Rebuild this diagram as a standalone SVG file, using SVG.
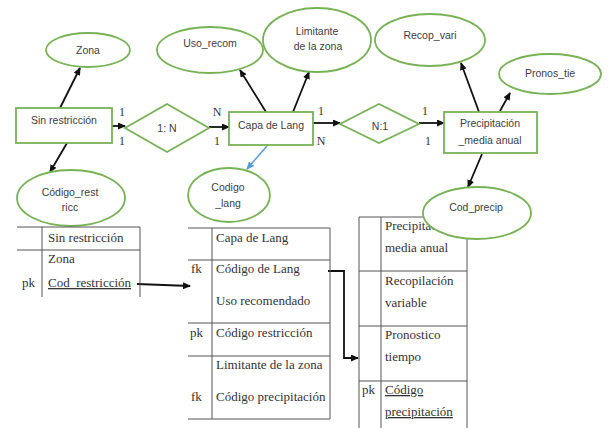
<svg xmlns="http://www.w3.org/2000/svg" width="608" height="428" viewBox="0 0 608 428">
<style>
.sh{fill:#fff;stroke:#77b255;stroke-width:1.8}
.er{font-family:"Liberation Sans",Arial,sans-serif;font-size:10.5px;fill:#404040;text-anchor:middle}
.card{font-family:"Liberation Serif","Times New Roman",serif;font-size:12px;fill:#333;text-anchor:middle}
.tb{font-family:"Liberation Serif","Times New Roman",serif;font-size:13px;fill:#333}
.tl{stroke:#555;stroke-width:1;fill:none}
.c{stroke:#111;stroke-width:1.8;fill:none;marker-end:url(#ah)}
.cb{stroke:#5b9bd5;stroke-width:1.5;fill:none;marker-end:url(#ahb)}
.u{text-decoration:underline}
</style>
<defs>
<marker id="ah" markerUnits="userSpaceOnUse" markerWidth="8" markerHeight="7" refX="7" refY="3.5" orient="auto"><path d="M0,0 L8,3.5 L0,7 z" fill="#111"/></marker>
<marker id="ahb" markerUnits="userSpaceOnUse" markerWidth="8" markerHeight="7" refX="7" refY="3.5" orient="auto"><path d="M0,0 L8,3.5 L0,7 z" fill="#5b9bd5"/></marker>
</defs>
<rect width="608" height="428" fill="#fff"/>

<g id="connectors">
<line class="c" x1="60" y1="108" x2="80" y2="68"/>
<line class="c" x1="67" y1="143" x2="50" y2="172"/>
<line class="c" x1="112" y1="126" x2="125" y2="126"/>
<line class="c" x1="209" y1="127" x2="229" y2="127"/>
<line class="c" x1="266" y1="112" x2="240" y2="70"/>
<line class="c" x1="293" y1="112" x2="309" y2="72"/>
<line class="cb" x1="267" y1="146" x2="247" y2="169"/>
<line class="c" x1="313" y1="123" x2="340" y2="123"/>
<line class="c" x1="419" y1="123" x2="444" y2="123"/>
<line class="c" x1="479" y1="112" x2="461" y2="63"/>
<line class="c" x1="500" y1="111" x2="510" y2="93"/>
<line class="c" x1="482" y1="154" x2="468" y2="187"/>
<path class="c" d="M137,284 L190,286" stroke-width="1.4"/>
<path class="c" d="M328,271 L344,271 L344,358 L358,358" stroke-width="1.6"/>
</g>

<g id="zona"><ellipse class="sh" cx="88" cy="50" rx="42" ry="17"/><text class="er" x="88" y="54">Zona</text></g>
<g id="sin_restriccion"><rect class="sh" x="16" y="108" width="96" height="35"/><text class="er" x="64" y="124">Sin restricción</text></g>
<g id="codigo_restricc"><ellipse class="sh" cx="71" cy="198" rx="54" ry="28"/><text class="er" x="70" y="196">Código_rest</text><text class="er" x="70" y="211">ricc</text></g>
<g id="rel_1n"><polygon class="sh" points="125,128 167,104 209,128 167,152"/><text class="er" x="167" y="132">1: N</text></g>
<g id="capa_lang"><rect class="sh" x="229" y="112" width="84" height="33"/><text class="er" x="271" y="129">Capa de Lang</text></g>
<g id="uso_recom"><ellipse class="sh" cx="210" cy="50" rx="53" ry="23"/><text class="er" x="210" y="47">Uso_recom</text></g>
<g id="limitante"><ellipse class="sh" cx="317" cy="40" rx="54" ry="32"/><text class="er" x="317" y="35">Limitante</text><text class="er" x="318" y="50">de la zona</text></g>
<g id="codigo_lang"><ellipse class="sh" cx="229" cy="195" rx="41" ry="27"/><text class="er" x="228" y="191">Codigo</text><text class="er" x="228" y="207">_lang</text></g>
<g id="rel_n1"><polygon class="sh" points="340,124 379,104 419,124 379,143"/><text class="er" x="380" y="130">N:1</text></g>
<g id="precipitacion"><rect class="sh" x="444" y="112" width="93" height="41"/><text class="er" x="490" y="127">Precipitación</text><text class="er" x="490" y="144">_media anual</text></g>
<g id="recop_vari"><ellipse class="sh" cx="430" cy="40" rx="55" ry="26"/><text class="er" x="430" y="39">Recop_vari</text></g>
<g id="pronos_tie"><ellipse class="sh" cx="550" cy="74" rx="51" ry="20"/><text class="er" x="550" y="77">Pronos_tie</text></g>

<g id="cardinalities">
<text class="card" x="122" y="116">1</text>
<text class="card" x="122" y="145">1</text>
<text class="card" x="217" y="116">N</text>
<text class="card" x="217" y="145">1</text>
<text class="card" x="321" y="115">1</text>
<text class="card" x="321" y="145">N</text>
<text class="card" x="425" y="115">1</text>
<text class="card" x="428" y="145">1</text>
</g>

<g id="tabla_sin_restriccion">
<path class="tl" d="M17,227 H140 M17,250 H140 M42,227 V297 M140,227 V297"/>
<text class="tb" x="48" y="242">Sin restricción</text>
<text class="tb" x="48" y="263">Zona</text>
<text class="tb" x="22" y="287">pk</text>
<text class="tb u" x="48" y="287">Cod_restricción</text>
</g>

<g id="tabla_capa_lang">
<path class="tl" d="M188,228 H330 M188,260 H330 M188,323 H330 M188,356 H330 M188,419 H330 M212,228 V419 M330,228 V419"/>
<text class="tb" x="216" y="242">Capa de Lang</text>
<text class="tb" x="191" y="273">fk</text>
<text class="tb" x="216" y="273">Código de Lang</text>
<text class="tb" x="216" y="305">Uso recomendado</text>
<text class="tb" x="190" y="337">pk</text>
<text class="tb" x="216" y="337">Código restricción</text>
<text class="tb" x="216" y="369">Limitante de la zona</text>
<text class="tb" x="191" y="401">fk</text>
<text class="tb" x="216" y="401">Código precipitación</text>
</g>

<g id="tabla_precipitacion">
<path class="tl" d="M359,217 H467 M359,271 H467 M359,326 H467 M359,381 H467 M359,217 V428 M381,217 V428 M467,217 V428"/>
<text class="tb" x="385" y="230">Precipitación</text>
<text class="tb" x="385" y="252">media anual</text>
<text class="tb" x="385" y="285">Recopilación</text>
<text class="tb" x="385" y="307">variable</text>
<text class="tb" x="385" y="339">Pronostico</text>
<text class="tb" x="385" y="361">tiempo</text>
<text class="tb" x="362" y="394">pk</text>
<text class="tb u" x="385" y="394">Código</text>
<text class="tb u" x="385" y="416">precipitación</text>
</g>

<g id="cod_precip"><ellipse class="sh" cx="477" cy="213" rx="54" ry="26"/><text class="er" x="476" y="211">Cod_precip</text></g>
</svg>
